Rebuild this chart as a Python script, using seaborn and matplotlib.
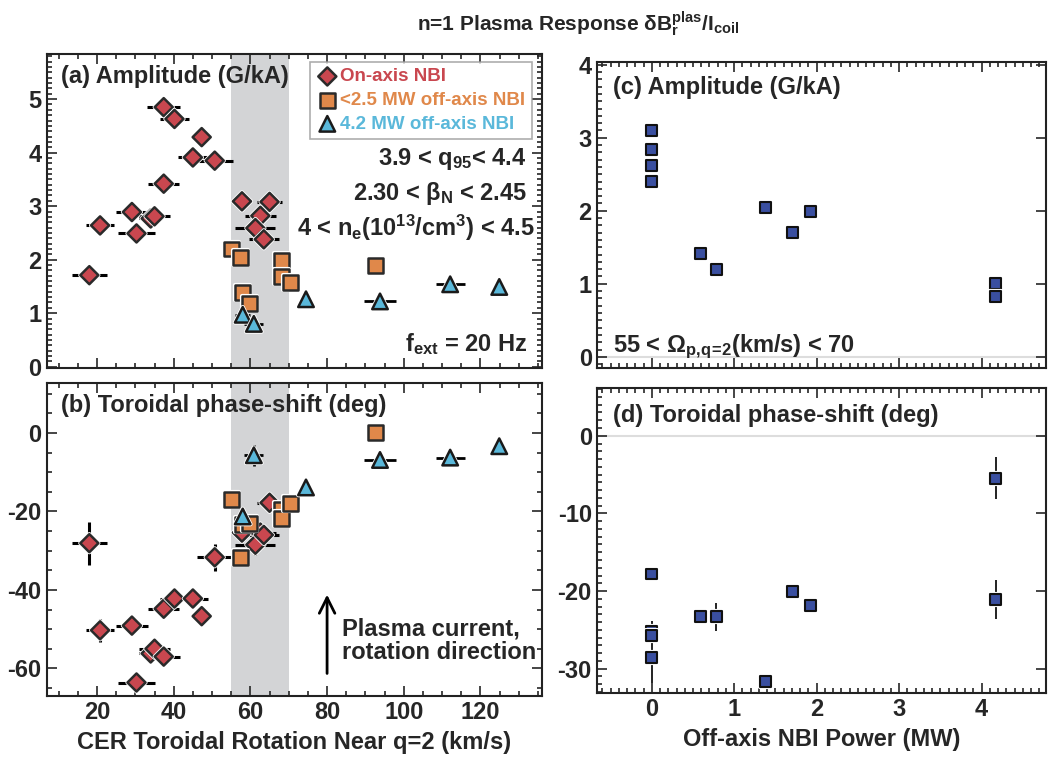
import matplotlib
matplotlib.use("Agg")
import matplotlib.pyplot as plt
import matplotlib.patheffects as pe
from matplotlib.ticker import MultipleLocator
import seaborn as sns

# ---- panel (a)/(b): on-axis NBI (diamonds)
onaxis_rot = [18.0, 20.8, 29.1, 30.3, 34.0, 35.0, 37.4, 37.4, 40.2, 47.3, 45.0, 50.7,
              57.8, 65.0, 62.6, 61.3, 63.5]
onaxis_rot_err = [4.5, 3.7, 4.1, 4.8, 3.0, 4.0, 4.1, 4.3, 3.8, 2.3, 3.9, 4.7,
                  1.2, 3.2, 4.0, 5.2, 3.9]
onaxis_amp = [1.71, 2.64, 2.89, 2.49, 2.77, 2.81, 3.42, 4.85, 4.63, 4.29, 3.91, 3.85,
              3.09, 3.08, 2.82, 2.59, 2.38]
onaxis_phase = [-28.1, -50.3, -49.1, -63.6, -56.2, -55.0, -44.8, -57.0, -42.2, -46.7, -42.2, -31.7,
                -25.4, -17.8, -25.4, -28.5, -26.0]
onaxis_phase_err = [5.5, 3.0, 0.8, 0.8, 1.0, 1.0, 0.8, 0.8, 1.5, 1.0, 1.0, 3.4,
                    1.0, 1.0, 1.0, 2.5, 1.0]

# <2.5 MW off-axis NBI (squares)
off_rot = [55.1, 57.4, 68.2, 68.2, 70.4, 58.0, 59.8, 92.6]
off_rot_err = [1.0, 1.5, 1.8, 2.0, 1.5, 1.8, 1.8, 1.5]
off_amp = [2.20, 2.04, 1.98, 1.68, 1.57, 1.39, 1.18, 1.89]
off_phase = [-16.9, -31.7, -19.6, -21.9, -17.9, -23.3, -23.2, 0.1]

# 4.2 MW off-axis NBI (triangles)
hi_rot = [58.0, 60.9, 74.5, 93.8, 112.1, 124.9]
hi_rot_err = [2.0, 2.5, 0.0, 4.3, 3.8, 0.0]
hi_amp = [0.97, 0.80, 1.26, 1.22, 1.54, 1.49]
hi_phase = [-21.3, -5.7, -13.9, -6.9, -6.3, -3.4]
hi_phase_err = [1.5, 2.7, 0.0, 0.5, 0.5, 0.0]

# ---- panel (c)/(d): vs off-axis NBI power
power = [0.0, 0.0, 0.0, 0.0, 0.59, 0.78, 1.38, 1.71, 1.92, 4.17, 4.17]
amp_c = [3.10, 2.84, 2.62, 2.40, 1.41, 1.19, 2.05, 1.70, 1.99, 1.00, 0.83]
phase_d = [-17.8, -25.2, -25.7, -28.6, -23.3, -23.3, -31.7, -20.0, -21.8, -5.5, -21.1]
phase_d_err = [0.5, 1.4, 1.0, 3.2, 0.5, 1.8, 0.7, 0.4, 0.4, 2.7, 2.5]

RED = "#C9474F"
ORANGE = "#E0884A"
CYAN = "#5AB8DA"
NAVY = "#3A4FA0"
FONT = ["Liberation Sans Narrow", "Liberation Sans", "DejaVu Sans"]

sns.set_style("ticks")
plt.rcParams["font.family"] = FONT
plt.rcParams["font.weight"] = "bold"
plt.rcParams["axes.unicode_minus"] = False
plt.rcParams["mathtext.fontset"] = "custom"
plt.rcParams["mathtext.rm"] = "Liberation Sans:bold"
plt.rcParams["mathtext.it"] = "Liberation Sans:bold"
plt.rcParams["mathtext.bf"] = "Liberation Sans:bold"

fig = plt.figure(figsize=(10.48, 7.63), dpi=100)
ax_a = fig.add_axes([0.045, 0.518, 0.472, 0.411])
ax_b = fig.add_axes([0.045, 0.088, 0.472, 0.410])
ax_c = fig.add_axes([0.570, 0.518, 0.428, 0.401])
ax_d = fig.add_axes([0.570, 0.092, 0.428, 0.400])

halo = [pe.withStroke(linewidth=3, foreground="white")]


def style(ax, xmaj, xmin, ymaj, ymin):
    ax.xaxis.set_major_locator(MultipleLocator(xmaj))
    ax.xaxis.set_minor_locator(MultipleLocator(xmin))
    ax.yaxis.set_major_locator(MultipleLocator(ymaj))
    ax.yaxis.set_minor_locator(MultipleLocator(ymin))
    ax.tick_params(which="both", direction="in", top=True, right=True, width=1.2,
                   labelsize=17, pad=4)
    ax.tick_params(which="major", length=7)
    ax.tick_params(which="minor", length=3.5)
    for lab in ax.get_xticklabels() + ax.get_yticklabels():
        lab.set_fontweight("bold")
    for s in ax.spines.values():
        s.set_linewidth(1.5)
        s.set_color("#222222")


def left_panel(ax, on_y, off_y, hi_y, on_yerr, hi_yerr):
    ax.axvspan(55, 70, color="#D3D4D6", lw=0, zorder=0)
    ax.errorbar(onaxis_rot, on_y, xerr=onaxis_rot_err, yerr=on_yerr, fmt="none",
                ecolor="black", elinewidth=2.2, zorder=2)
    ax.errorbar(off_rot, off_y, xerr=off_rot_err, fmt="none",
                ecolor="black", elinewidth=1.4, zorder=2)
    ax.errorbar(hi_rot, hi_y, xerr=hi_rot_err, yerr=hi_yerr, fmt="none",
                ecolor="black", elinewidth=2.0, zorder=2)
    sns.scatterplot(x=onaxis_rot, y=on_y, ax=ax, marker="D", s=85, color=RED,
                    edgecolor="#2a2a2a", linewidth=1.8, zorder=4)
    sc1 = ax.collections[-1]
    sns.scatterplot(x=off_rot, y=off_y, ax=ax, marker="s", s=115, color=ORANGE,
                    edgecolor="#2a2a2a", linewidth=1.8, zorder=4)
    sc2 = ax.collections[-1]
    sns.scatterplot(x=hi_rot, y=hi_y, ax=ax, marker="^", s=125, color=CYAN,
                    edgecolor="#1a1a1a", linewidth=1.8, zorder=4)
    sc3 = ax.collections[-1]
    for sc in (sc1, sc2, sc3):
        sc.set_path_effects(halo)
    ax.set_xlim(7, 136)
    return sc1, sc2, sc3


# (a)
sc1, sc2, sc3 = left_panel(ax_a, onaxis_amp, off_amp, hi_amp, None, None)
ax_a.set_ylim(-0.02, 5.84)
style(ax_a, 20, 5, 1, 0.1)
ax_a.set_xticklabels([])
ax_a.text(0.028, 0.965, "(a) Amplitude (G/kA)", transform=ax_a.transAxes,
          fontsize=17, fontweight="bold", va="top", ha="left")
leg = ax_a.legend([sc1, sc2, sc3],
                  ["On-axis NBI", "<2.5 MW off-axis NBI", "4.2 MW off-axis NBI"],
                  loc="upper right", bbox_to_anchor=(0.988, 0.988), frameon=True,
                  fancybox=False, prop={"family": FONT, "weight": "bold", "size": 13.5},
                  handletextpad=0.1, borderpad=0.35, labelspacing=0.35,
                  handlelength=1.2, markerscale=1.0, borderaxespad=0.2)
leg.get_frame().set_edgecolor("#999999")
leg.get_frame().set_linewidth(1.2)
for txt, c in zip(leg.get_texts(), [RED, ORANGE, CYAN]):
    txt.set_color(c)
ax_a.text(0.97, 0.665, r"3.9 < q$_{95}$< 4.4", transform=ax_a.transAxes,
          fontsize=17, ha="right", va="center")
ax_a.text(0.97, 0.555, r"2.30 < $\beta_\mathrm{N}$ < 2.45", transform=ax_a.transAxes,
          fontsize=17, ha="right", va="center")
ax_a.text(0.985, 0.445, r"4 < n$_\mathrm{e}$(10$^{13}$/cm$^3$) < 4.5",
          transform=ax_a.transAxes, fontsize=17, ha="right", va="center")
ax_a.text(0.97, 0.075, r"f$_\mathrm{ext}$ = 20 Hz", transform=ax_a.transAxes,
          fontsize=17, ha="right", va="center")

# (b)
left_panel(ax_b, onaxis_phase, off_phase, hi_phase, onaxis_phase_err, hi_phase_err)
ax_b.set_ylim(-67, 12.7)
style(ax_b, 20, 5, 20, 5)
ax_b.text(0.028, 0.965, "(b) Toroidal phase-shift (deg)", transform=ax_b.transAxes,
          fontsize=17, fontweight="bold", va="top", ha="left")
ax_b.annotate("", xy=(80, -40.5), xytext=(80, -62),
              arrowprops=dict(arrowstyle="->", lw=2, color="black",
                              mutation_scale=28))
ax_b.text(84, -53, "Plasma current,\nrotation direction", fontsize=17,
          ha="left", va="center", linespacing=1.0)
ax_b.set_xlabel("CER Toroidal Rotation Near q=2 (km/s)", fontsize=17,
                fontweight="bold", labelpad=5)

# (c)
ax_c.axhline(0, color="#DDDDDD", lw=1.5, zorder=0)
sns.scatterplot(x=power, y=amp_c, ax=ax_c, marker="s", s=62, color=NAVY,
                edgecolor="#111111", linewidth=1.5, zorder=4)
ax_c.collections[-1].set_path_effects(halo)
ax_c.set_xlim(-0.66, 4.78)
ax_c.set_ylim(-0.15, 4.04)
style(ax_c, 1, 0.1, 1, 0.1)
ax_c.tick_params(axis="y", which="minor", right=False)
ax_c.set_xticklabels([])
ax_c.text(0.035, 0.955, "(c) Amplitude (G/kA)", transform=ax_c.transAxes,
          fontsize=17, fontweight="bold", va="top", ha="left")
ax_c.text(0.035, 0.07, r"55 < $\Omega_{\mathrm{p,\!q\!=\!2}}$(km/s) < 70",
          transform=ax_c.transAxes, fontsize=17, ha="left", va="center")

# (d)
ax_d.axhline(0, color="#DDDDDD", lw=1.5, zorder=0)
ax_d.errorbar(power, phase_d, yerr=phase_d_err, fmt="none", ecolor="#222222",
              elinewidth=1.4, zorder=2)
sns.scatterplot(x=power, y=phase_d, ax=ax_d, marker="s", s=62, color=NAVY,
                edgecolor="#111111", linewidth=1.5, zorder=4)
ax_d.collections[-1].set_path_effects(halo)
ax_d.set_xlim(-0.66, 4.78)
ax_d.set_ylim(-33.1, 6.2)
style(ax_d, 1, 0.1, 10, 1)
ax_d.tick_params(axis="y", which="minor", right=False)
ax_d.text(0.035, 0.945, "(d) Toroidal phase-shift (deg)", transform=ax_d.transAxes,
          fontsize=17, fontweight="bold", va="top", ha="left")
ax_d.set_xlabel("Off-axis NBI Power (MW)", fontsize=17, fontweight="bold", labelpad=5)

fig.text(0.552, 0.968,
         r"n=1 Plasma Response $\delta$B$_\mathrm{r}^\mathrm{plas}$/I$_\mathrm{coil}$",
         ha="center", va="center", fontsize=15, fontweight="bold")

fig.savefig("out.png", dpi=100)
